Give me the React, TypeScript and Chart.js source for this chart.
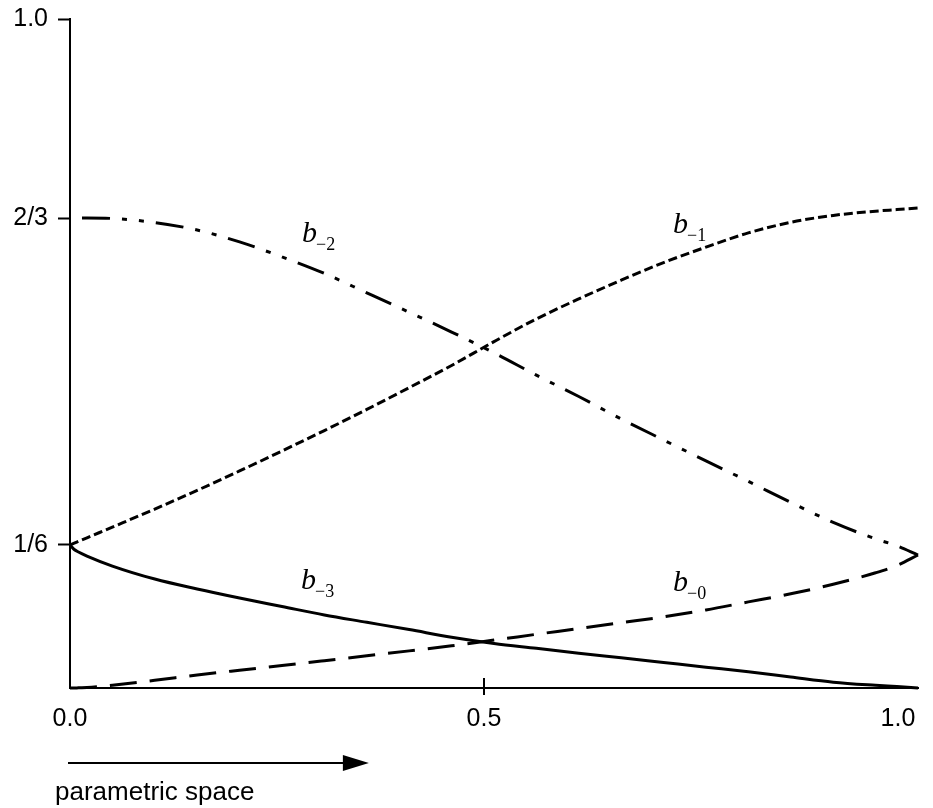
import React, { useEffect, useRef } from "react";
import { Chart, registerables } from "chart.js";

Chart.register(...registerables);

// parametric position t (the curves run slightly past the 1.0 tick, as in the drawing)
const T = [0, 0.0051, 0.0102, 0.0205, 0.0512, 0.1024, 0.1536, 0.2048, 0.256, 0.3072, 0.3585, 0.4097, 0.4609, 0.5121, 0.5633, 0.6145, 0.6657, 0.7169, 0.7681, 0.8193, 0.8705, 0.9218, 0.973, 0.9986, 1.0242];

const B_MINUS_3 = [0.2138, 0.207, 0.2033, 0.1973, 0.1823, 0.1629, 0.148, 0.1345, 0.1218, 0.1091, 0.0982, 0.0873, 0.0759, 0.0665, 0.0593, 0.052, 0.0451, 0.0381, 0.0311, 0.0242, 0.0164, 0.0087, 0.004, 0.0021, 0];
const B_MINUS_0 = [0, 0, 0.0003, 0.0007, 0.0042, 0.0115, 0.0194, 0.0266, 0.0336, 0.0408, 0.0481, 0.0555, 0.0631, 0.0716, 0.0803, 0.0889, 0.0976, 0.1063, 0.1166, 0.1287, 0.1408, 0.155, 0.1722, 0.1831, 0.1988];
const B_MINUS_2 = [0.7025, 0.7025, 0.7025, 0.7025, 0.7018, 0.6958, 0.6846, 0.6668, 0.6444, 0.6197, 0.5907, 0.5616, 0.5321, 0.501, 0.4676, 0.4357, 0.4022, 0.3707, 0.3395, 0.3088, 0.2774, 0.2475, 0.2229, 0.2126, 0.1988];
const B_MINUS_1 = [0.2138, 0.2164, 0.2191, 0.2245, 0.2405, 0.2674, 0.2954, 0.3244, 0.3543, 0.3848, 0.4164, 0.449, 0.4821, 0.5178, 0.5517, 0.5816, 0.6096, 0.6359, 0.659, 0.6803, 0.6961, 0.7064, 0.7128, 0.7151, 0.7175];

const X_MAX = 1.0242;
const Y_TICK_VALUES = [0.2138, 0.7025, 1.0];
const Y_TICK_LABELS = ["1/6", "2/3", "1.0"];
const X_TICK_VALUES = [0, 0.5, 1];
const X_TICK_LABELS = ["0.0", "0.5", "1.0"];

const CURVE_NAMES = ["b", "b", "b", "b"];
const CURVE_SUBS = ["\u22122", "\u22121", "\u22123", "\u22120"];
const CURVE_LABEL_X = [0.2802, 0.7283, 0.279, 0.7283];
const CURVE_LABEL_Y = [0.6667, 0.68, 0.148, 0.145];

const ARROW_END = 0.361;
const AXIS_CAPTION = "parametric space";

const SANS = '"Liberation Sans", Arial, sans-serif';
const SERIF = '"Liberation Serif", "Times New Roman", serif';

const toPoints = (vals: number[]) => vals.map((v, i) => ({ x: T[i], y: v }));

const decorPlugin = {
  id: "decor",
  afterDraw(chart: any) {
    const { ctx, chartArea, scales } = chart;
    const x = scales.x;
    const y = scales.y;
    ctx.save();
    ctx.fillStyle = "#000";
    ctx.strokeStyle = "#000";
    ctx.setLineDash([]);

    // x tick labels
    ctx.font = `25px ${SANS}`;
    ctx.textBaseline = "alphabetic";
    ctx.textAlign = "center";
    X_TICK_VALUES.forEach((v, i) => {
      const px = x.getPixelForValue(v);
      ctx.fillText(X_TICK_LABELS[i], px, chartArea.bottom + 38);
    });

    // middle tick mark crossing the x axis
    const mid = x.getPixelForValue(X_TICK_VALUES[1]);
    ctx.lineWidth = 2;
    ctx.beginPath();
    ctx.moveTo(mid, chartArea.bottom - 10);
    ctx.lineTo(mid, chartArea.bottom + 7);
    ctx.stroke();

    // curve labels
    CURVE_NAMES.forEach((name, i) => {
      const px = x.getPixelForValue(CURVE_LABEL_X[i]);
      const py = y.getPixelForValue(CURVE_LABEL_Y[i]);
      ctx.textAlign = "left";
      ctx.font = `italic 30px ${SERIF}`;
      ctx.fillText(name, px, py);
      const w = ctx.measureText(name).width;
      ctx.font = `18px ${SERIF}`;
      ctx.fillText(CURVE_SUBS[i], px + w - 1, py + 8);
    });

    // arrow
    const ay = chartArea.bottom + 75;
    const x0 = x.getPixelForValue(0) - 2;
    const x1 = x.getPixelForValue(ARROW_END);
    ctx.lineWidth = 2;
    ctx.beginPath();
    ctx.moveTo(x0, ay);
    ctx.lineTo(x1 - 24, ay);
    ctx.stroke();
    ctx.beginPath();
    ctx.moveTo(x1, ay);
    ctx.lineTo(x1 - 26, ay - 8);
    ctx.lineTo(x1 - 26, ay + 8);
    ctx.closePath();
    ctx.fill();

    ctx.font = `26px ${SANS}`;
    ctx.textAlign = "left";
    ctx.fillText(AXIS_CAPTION, chartArea.left - 15, chartArea.bottom + 112);
    ctx.restore();
  },
};

export default function App() {
  const canvasRef = useRef<HTMLCanvasElement | null>(null);

  useEffect(() => {
    const canvas = canvasRef.current;
    if (!canvas) return;
    const common = {
      borderColor: "#000",
      borderWidth: 3,
      pointRadius: 0,
      fill: false,
      cubicInterpolationMode: "monotone" as const,
      clip: 4,
    };
    const chart = new Chart(canvas, {
      type: "line",
      data: {
        datasets: [
          { ...common, label: "b-3", data: toPoints(B_MINUS_3) },
          { ...common, label: "b-0", data: toPoints(B_MINUS_0), borderDash: [27, 13] },
          { ...common, label: "b-2", data: toPoints(B_MINUS_2), borderDash: [28, 12, 5, 12, 5, 12], borderDashOffset: 62 },
          { ...common, label: "b-1", data: toPoints(B_MINUS_1), borderDash: [9, 4] },
        ],
      },
      options: {
        animation: false,
        responsive: false,
        layout: { padding: { top: 19, right: 15, left: 0, bottom: 0 } },
        plugins: { legend: { display: false }, tooltip: { enabled: false } },
        scales: {
          x: {
            type: "linear",
            min: 0,
            max: X_MAX,
            grid: { display: false },
            border: { display: true, color: "#000", width: 2 },
            ticks: { display: false },
            afterFit: (scale: any) => {
              scale.height = 120;
              scale.paddingLeft = 0;
              scale.paddingRight = 0;
            },
          },
          y: {
            type: "linear",
            min: 0,
            max: 1,
            grid: {
              display: true,
              drawOnChartArea: false,
              drawTicks: true,
              tickLength: 12,
              tickColor: "#000",
              tickWidth: 2,
              color: "#000",
            },
            border: { display: true, color: "#000", width: 2 },
            afterBuildTicks: (scale: any) => {
              scale.ticks = Y_TICK_VALUES.map((v) => ({ value: v }));
            },
            ticks: {
              color: "#000",
              font: { family: SANS, size: 25 },
              padding: 10,
              autoSkip: false,
              callback: (_v: any, i: number) => Y_TICK_LABELS[i],
            },
            afterFit: (scale: any) => {
              scale.width = 70;
              scale.paddingTop = 0;
              scale.paddingBottom = 0;
            },
          },
        },
      },
      plugins: [decorPlugin],
    });
    return () => chart.destroy();
  }, []);

  return (
    <div style={{ position: "fixed", left: 0, top: 0, width: 933, height: 808, background: "#fff" }}>
      <canvas ref={canvasRef} width={933} height={808} style={{ display: "block" }} />
    </div>
  );
}
